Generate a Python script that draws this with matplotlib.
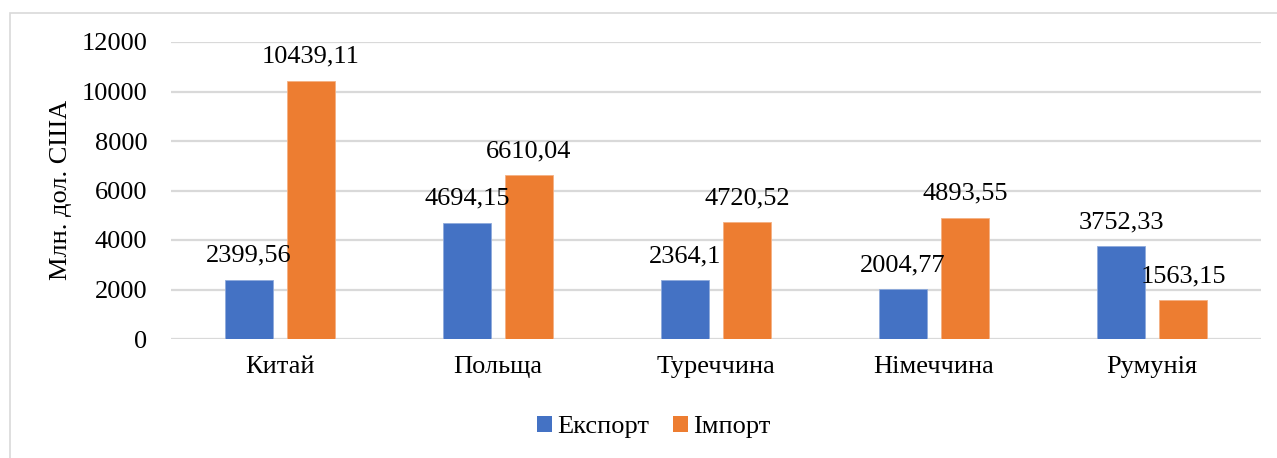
import matplotlib
matplotlib.use("Agg")
import matplotlib.pyplot as plt
from matplotlib.patches import Rectangle, Patch
import numpy as np

plt.rcParams['font.family'] = ['Liberation Serif', 'DejaVu Serif']

categories = ["Китай", "Польща", "Туреччина", "Німеччина", "Румунія"]
export_vals = [2399.56, 4694.15, 2364.1, 2004.77, 3752.33]
import_vals = [10439.11, 6610.04, 4720.52, 4893.55, 1563.15]
export_labels = ["2399,56", "4694,15", "2364,1", "2004,77", "3752,33"]
import_labels = ["10439,11", "6610,04", "4720,52", "4893,55", "1563,15"]
series_names = ["Експорт", "Імпорт"]
yticks = [0, 2000, 4000, 6000, 8000, 10000, 12000]

blue = "#4472C4"
orange = "#ED7D31"
grid_c = "#D9D9D9"
fs = 19

fig = plt.figure(figsize=(12.77, 4.58), dpi=100)
ax = fig.add_axes([171/1277, 1-339/458, (1261-171)/1277, (339-42)/458])

x = np.arange(len(categories))
w = 0.22
off = 0.142
b1 = ax.bar(x - off, export_vals, w, color=blue, edgecolor="#8FAADC", linewidth=0.6, zorder=3)
b2 = ax.bar(x + off, import_vals, w, color=orange, edgecolor="#F4B183", linewidth=0.6, zorder=3)

for bars, labs in ((b1, export_labels), (b2, import_labels)):
    for r, lab in zip(bars, labs):
        ax.annotate(lab, (r.get_x() + r.get_width()/2, r.get_height()),
                    xytext=(0, 13), textcoords="offset points",
                    ha="center", va="baseline", fontsize=fs, color="#000000", zorder=5)

ax.set_xlim(-0.5, len(categories) - 0.5)
ax.set_ylim(0, 12000)
ax.set_yticks(yticks)
ax.set_yticklabels([str(v) for v in yticks], fontsize=fs)
ax.set_xticks(x)
ax.set_xticklabels(categories, fontsize=fs)
ax.tick_params(axis="both", length=0)
ax.tick_params(axis="y", pad=17)
ax.tick_params(axis="x", pad=12)
ax.yaxis.grid(True, color=grid_c, linewidth=1.6, zorder=0)
ax.set_axisbelow(True)
for s in ax.spines.values():
    s.set_visible(False)

fig.text(61/1277, 1-190/458, "Млн. дол. США", rotation=90, ha="center", va="center", fontsize=fs)

handles = [Patch(facecolor=blue), Patch(facecolor=orange)]
fig.legend(handles, series_names, loc="center", bbox_to_anchor=(654/1277, 1-427/458),
           ncol=2, frameon=False, fontsize=fs, handlelength=0.56, handleheight=0.56,
           handletextpad=0.2, columnspacing=0.9, borderpad=0)

fig.patches.append(Rectangle((10/1277, -0.2), 1.2, 1.2 - 13/458, transform=fig.transFigure,
                             fill=False, edgecolor=grid_c, linewidth=1.2))

fig.savefig("out.png", dpi=100, facecolor="white")
